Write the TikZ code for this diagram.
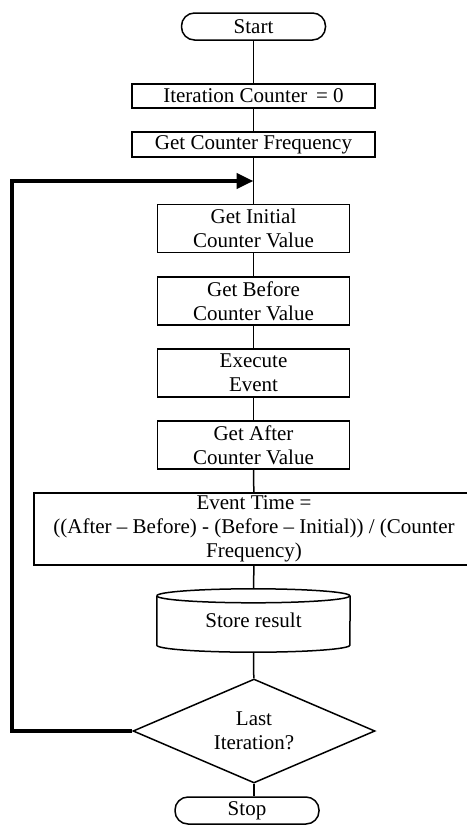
\documentclass[tikz,border=0pt]{standalone}
\usepackage{fontspec}
\setmainfont{Liberation Serif}
\usetikzlibrary{shapes.geometric,arrows.meta}

\tikzset{
  box/.style={draw, line width=1.5pt, inner sep=0pt, align=center},
  terminal/.style={box, rounded corners=13pt, minimum width=144pt, minimum height=27pt},
  widebox/.style={box, minimum width=243pt},
  stepbox/.style={box, minimum width=192pt, minimum height=48pt},
  decision/.style={box, diamond, aspect=2.3, minimum width=242pt, minimum height=104pt},
  link/.style={line width=1.5pt},
  loopback/.style={line width=4.5pt, -{Triangle[length=17pt,width=15pt]}}
}

\begin{document}
\begin{tikzpicture}[x=1pt, y=-1pt, font=\fontsize{21}{24}\selectfont]
\useasboundingbox (0,0) rectangle (466,827);

\node [terminal] (start) at (253.5, 26.5) {Start};
\node [widebox, minimum height=24pt] (count) at (253.5, 96) {Iteration Counter \,= 0};
\node [widebox, minimum height=25pt] (freq) at (253.5, 144.5) {Get Counter Frequency};
\coordinate (join) at (253.5, 181);
\node [stepbox] (initial) at (253.5, 228.5) {Get Initial\\Counter Value};
\node [stepbox] (before) at (253.5, 301) {Get Before\\Counter Value};
\node [stepbox] (exec) at (253.5, 373) {Execute\\Event};
\node [stepbox] (after) at (253.5, 445) {Get After\\Counter Value};
\node [box, minimum width=440pt, minimum height=72pt] (evtime) at (254, 529)
  {Event Time =\\((After – Before) - (Before – Initial)) / (Counter\\Frequency)};
\node [inner sep=0pt, minimum width=193pt, minimum height=63pt] (store) at (253.5, 620.5) {Store result};
\node [decision] (last) at (254, 731) {Last\\Iteration?};
\node [terminal] (stop) at (247, 810.5) {Stop};
\coordinate (corner) at (12, 731);

% cylinder outline of the store
\draw [link] ([yshift=-7pt]store.north west) arc [start angle=180, end angle=-180, x radius=96.5pt, y radius=7pt];
\draw [link] ([yshift=-7pt]store.north west) -- ([yshift=7pt]store.south west)
  arc [start angle=180, end angle=360, x radius=96.5pt, y radius=7pt] -- ([yshift=-7pt]store.north east);

\draw [link] (start) -- (count);
\draw [link] (count) -- (freq);
\draw [link] (freq) -- (initial);
\draw [link] (initial) -- (before);
\draw [link] (before) -- (exec);
\draw [link] (exec) -- (after);
\draw [link] (after) -- (evtime);
\draw [link] (evtime) -- (store);
\draw [link] (store) -- (last);
\draw [link] (last.south) -- (last.south |- stop.north);

\draw [loopback] (last.west) -- (corner) |- (join);
\end{tikzpicture}
\end{document}
